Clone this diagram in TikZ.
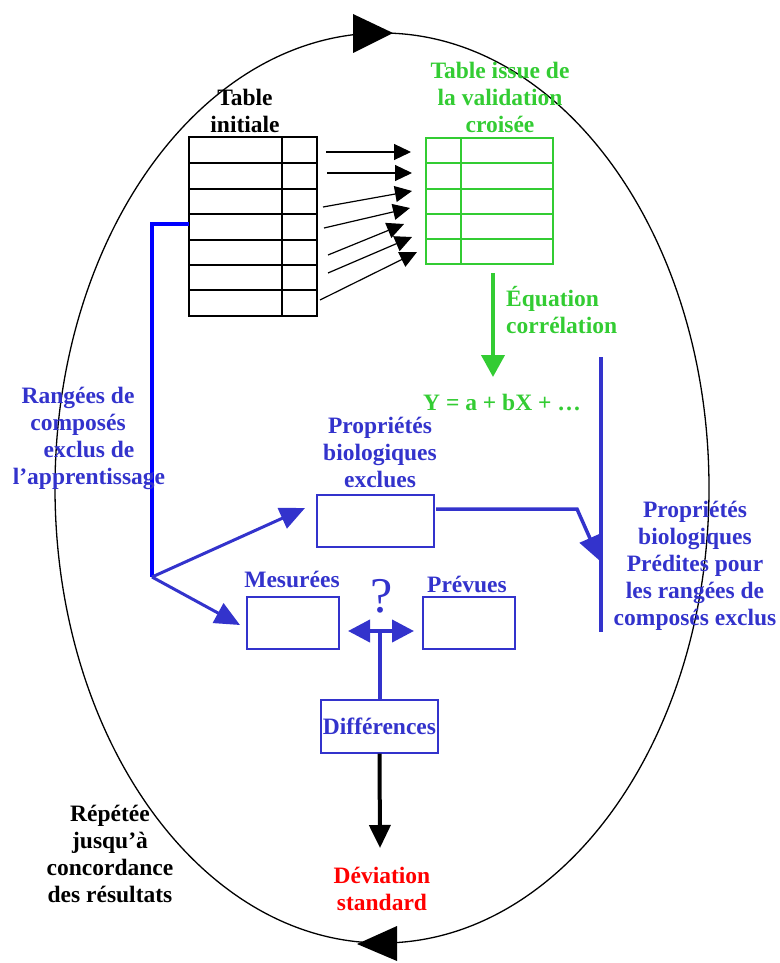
\documentclass[tikz,border=0pt]{standalone}
\usepackage{fontspec}
\setmainfont{Liberation Serif}
\usetikzlibrary{arrows.meta,calc}
\definecolor{txtblue}{RGB}{51,51,204}
\definecolor{pureblue}{RGB}{0,0,255}
\definecolor{leafgreen}{RGB}{51,204,51}
\definecolor{alertred}{RGB}{255,0,0}
\begin{document}
\begin{tikzpicture}[x=1pt,y=-1pt,
  lbl/.style={font=\bfseries\fontsize{23.5}{27}\selectfont, inner sep=0pt, align=center, anchor=base},
  tablebox/.style={draw, line width=1.4pt, rectangle, inner sep=0pt},
  gridline/.style={line width=1.4pt},
  bluebox/.style={draw=txtblue, line width=1.3pt, rectangle, inner sep=0pt},
  rowarrow/.style={line width=1.2pt, -{Triangle[length=17pt,width=16pt]}},
  bluearrow/.style={draw=txtblue, line width=3pt, -{Triangle[length=25pt,width=22pt]}},
  thickarrow/.style={line width=4pt, -{Triangle[length=23pt,width=21pt]}},
]
\useasboundingbox (0,0) rectangle (779,963);

% cycle: the big loop with its two direction marks
\draw[line width=1.3pt] (382,488) ellipse [x radius=327pt, y radius=455pt];
\fill (393,33) -- (353,14) -- (353,53) -- cycle;
\fill (357,944) -- (397,926) -- (397,961) -- cycle;

% initial table (7 rows, 2 columns)
\node[tablebox, minimum width=128pt, minimum height=179pt] (tinit) at (253,226.5) {};
\draw[gridline] (282,137) -- (282,316);
\foreach \yy in {163,189,214,240,265,290}
  \draw[gridline] (189,\yy) -- (317,\yy);
\node[lbl] (tinitlbl) at (245,132) {Table\\initiale};

% cross-validation table (5 rows, 2 columns)
\node[tablebox, draw=leafgreen, minimum width=127pt, minimum height=126pt] (tval) at (489.5,201) {};
\draw[gridline, leafgreen] (461,138) -- (461,264);
\foreach \yy in {163,189,214,239}
  \draw[gridline, leafgreen] (426,\yy) -- (553,\yy);
\node[lbl, text=leafgreen] (tvallbl) at (500,132) {Table issue de\\la validation\\croisée};

% row arrows between the two tables
\foreach \i/\sx/\sy/\ex/\ey in {1/326/152/411/152, 2/327/173/412/173, 3/323/207/412/191,
    4/324/228/410/208, 5/328/255/404/224, 6/328/273/412/237, 7/320/300/417/252} {
  \coordinate (rs\i) at (\sx,\sy);
  \coordinate (re\i) at (\ex,\ey);
  \draw[rowarrow] (rs\i) -- (re\i);
}

% correlation equation
\coordinate (eqtop) at (493,273);
\coordinate (eqtip) at (493,377);
\draw[leafgreen, line width=4pt, -{Triangle[length=22pt,width=23pt]}] (eqtop) -- (eqtip);
\node[lbl, text=leafgreen, align=left, anchor=base west] (eqlbl) at (506,333) {Équation\\corrélation};
\node[lbl, text=leafgreen, anchor=base west] (yeq) at (423,410) {Y = a + bX + …};

% excluded rows branch
\coordinate (tap) at (189,224);
\coordinate (fork) at (152,577);
\draw[pureblue, line width=3.5pt] (tap) -- (152,224) -- (fork);
\node[lbl, text=txtblue] (ranglbl) at (84,484)
  {\hspace*{-12pt}Rangées de\\\hspace*{-12pt}composés\\\hspace*{10pt}exclus de\\\hspace*{10pt}l’apprentissage};

\node[bluebox, minimum width=117pt, minimum height=52pt] (exclbox) at (375.5,521) {};
\node[lbl, text=txtblue] (excllbl) at (380,487) {Propriétés\\biologiques\\exclues};
\node[bluebox, minimum width=92pt, minimum height=52pt] (mesbox) at (293,623) {};
\node[lbl, text=txtblue] (meslbl) at (292,587) {Mesurées};
\node[bluebox, minimum width=92pt, minimum height=52pt] (prevbox) at (469,623) {};
\node[lbl, text=txtblue] (prevlbl) at (467,592) {Prévues};
\node[bluebox, minimum width=117pt, minimum height=53pt, font=\bfseries\fontsize{23.5}{27}\selectfont, text=txtblue] (diffbox) at (379.5,726.5) {Différences};

\coordinate (excltip) at (305,508);
\coordinate (mestip) at (240,625);
\draw[bluearrow] (fork) -- (excltip);
\draw[bluearrow] (fork) -- (mestip);

% predicted properties
\coordinate (predtop) at (601,357);
\coordinate (predbot) at (601,632);
\draw[txtblue, line width=4pt] (predtop) -- (predbot);
\coordinate (exclout) at (436,509);
\coordinate (bend) at (577,509);
\coordinate (predtip) at (600,561);
\draw[bluearrow, line width=3.5pt] (exclout) -- (bend) -- (predtip);
\node[lbl, text=txtblue] (predlbl) at (695,625)
  {Propriétés\\biologiques\\Prédites pour\\les rangées de\\composés exclus};

% comparison of measured and predicted values
\coordinate (cmpl) at (348,631);
\coordinate (cmpr) at (414,631);
\draw[txtblue, line width=4pt, {Triangle[length=22pt,width=22pt]}-{Triangle[length=22pt,width=22pt]}] (cmpl) -- (cmpr);
\draw[txtblue, line width=4pt] (diffbox.north) -- (diffbox.north |- cmpl);
\node[font=\fontsize{50}{50}\selectfont, text=txtblue, inner sep=0pt, anchor=base] (qmark) at (382,612) {?};

% standard deviation
\coordinate (devtip) at (380,848);
\draw[thickarrow] (diffbox.south) -- (devtip);
\node[lbl, text=alertred] (devlbl) at (382,910) {Déviation\\standard};

% repetition note
\node[lbl] (replbl) at (110,902) {Répétée\\jusqu’à\\concordance\\des résultats};
\end{tikzpicture}
\end{document}
